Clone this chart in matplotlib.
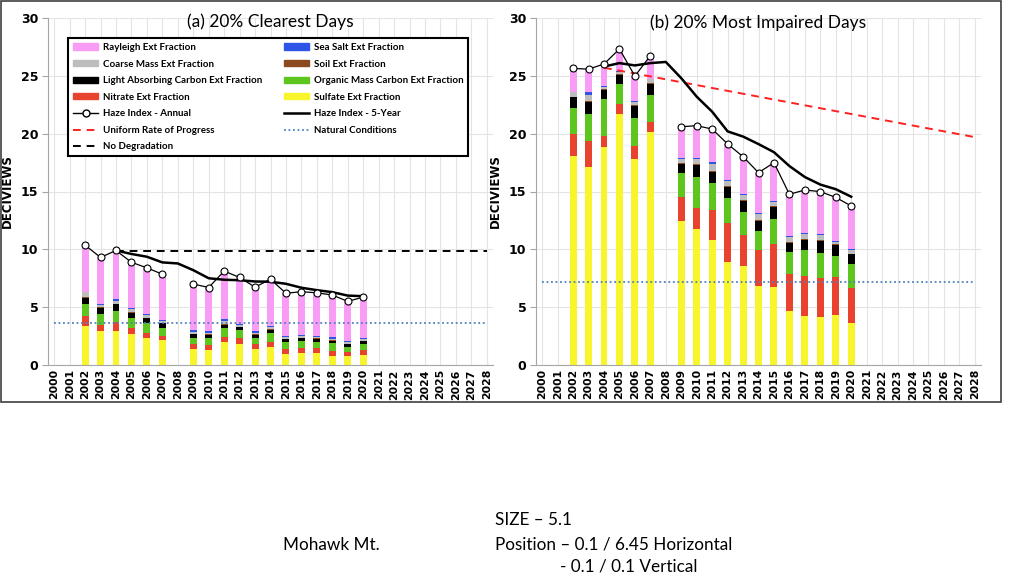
import numpy as np
import matplotlib.pyplot as plt
from matplotlib.patches import Patch, Rectangle
from matplotlib.lines import Line2D

plt.rcParams['font.family'] = ['Lato', 'DejaVu Sans']

# years
bar_years = [2002, 2003, 2004, 2005, 2006, 2007, 2009, 2010, 2011, 2012,
             2013, 2014, 2015, 2016, 2017, 2018, 2019, 2020]
annual_years = list(range(2002, 2021))
five_years = list(range(2004, 2021))
axis_years = list(range(2000, 2029))

# (a) 20% clearest days - deciview contribution of each species
clear_sulfate = [3.40, 2.95, 2.97, 2.65, 2.30, 2.16, 1.38, 1.30, 1.96, 1.78, 1.38, 1.58, 0.95, 1.00, 1.00, 0.80, 0.80, 0.86]
clear_nitrate = [0.82, 0.50, 0.73, 0.52, 0.46, 0.34, 0.40, 0.43, 0.49, 0.52, 0.40, 0.44, 0.40, 0.44, 0.44, 0.41, 0.35, 0.44]
clear_omc = [1.03, 0.98, 1.00, 0.86, 0.84, 0.67, 0.52, 0.57, 0.72, 0.72, 0.58, 0.71, 0.66, 0.63, 0.56, 0.66, 0.43, 0.51]
clear_lac = [0.56, 0.51, 0.55, 0.49, 0.43, 0.43, 0.35, 0.29, 0.29, 0.24, 0.23, 0.29, 0.21, 0.23, 0.25, 0.23, 0.23, 0.26]
clear_soil = [0.05, 0.05, 0.05, 0.05, 0.05, 0.05, 0.05, 0.05, 0.05, 0.05, 0.05, 0.05, 0.04, 0.05, 0.05, 0.04, 0.04, 0.04]
clear_coarse = [0.44, 0.21, 0.20, 0.23, 0.23, 0.15, 0.18, 0.15, 0.29, 0.15, 0.15, 0.19, 0.13, 0.15, 0.15, 0.13, 0.11, 0.11]
clear_seasalt = [0.03, 0.08, 0.22, 0.10, 0.12, 0.12, 0.15, 0.12, 0.20, 0.12, 0.12, 0.15, 0.10, 0.12, 0.08, 0.12, 0.08, 0.10]
clear_rayleigh = [4.03, 4.02, 4.18, 3.98, 3.97, 3.93, 3.97, 3.79, 4.12, 3.99, 3.82, 4.01, 3.71, 3.72, 3.71, 3.66, 3.46, 3.55]
clear_annual = [10.36, 9.30, 9.90, 8.88, 8.40, 7.85, np.nan, 7.00, 6.70, 8.12, 7.57, 6.73, 7.42, 6.20, 6.34, 6.24, 6.05, 5.50, 5.87]
clear_5yr = [9.90, 9.60, 9.36, 8.87, 8.78, 8.20, 7.50, 7.37, 7.33, 7.22, 7.20, 7.02, 6.68, 6.47, 6.30, 6.00, 5.95]
clear_natural = 3.63
clear_nodeg = 9.87

# (b) 20% most impaired days
imp_sulfate = [18.07, 17.09, 18.87, 21.70, 17.81, 20.17, 12.45, 11.76, 10.81, 8.93, 8.56, 6.83, 6.77, 4.70, 4.24, 4.18, 4.29, 3.60]
imp_nitrate = [1.87, 2.28, 0.96, 0.84, 1.15, 0.87, 2.04, 1.84, 2.59, 3.32, 2.65, 3.11, 3.69, 3.19, 3.45, 3.37, 3.29, 3.08]
imp_omc = [2.25, 2.33, 3.17, 1.73, 2.36, 2.30, 2.08, 2.62, 2.30, 2.16, 2.02, 1.64, 2.16, 1.88, 2.25, 2.16, 1.87, 2.05]
imp_lac = [0.96, 1.07, 0.77, 0.83, 1.10, 0.95, 0.81, 1.07, 1.01, 1.01, 0.95, 0.87, 1.07, 0.80, 0.87, 1.04, 0.92, 0.84]
imp_soil = [0.05, 0.05, 0.05, 0.05, 0.05, 0.05, 0.05, 0.05, 0.05, 0.05, 0.05, 0.05, 0.05, 0.05, 0.05, 0.05, 0.05, 0.05]
imp_coarse = [0.38, 0.50, 0.18, 0.20, 0.28, 0.39, 0.38, 0.49, 0.66, 0.42, 0.43, 0.57, 0.34, 0.46, 0.48, 0.43, 0.20, 0.28]
imp_seasalt = [0.05, 0.30, 0.12, 0.05, 0.10, 0.03, 0.08, 0.10, 0.10, 0.10, 0.10, 0.10, 0.10, 0.10, 0.10, 0.10, 0.10, 0.10]
imp_rayleigh = [2.01, 1.96, 1.90, 1.92, 2.13, 1.98, 2.71, 2.76, 2.88, 3.12, 3.25, 3.46, 3.31, 3.58, 3.69, 3.66, 3.77, 3.75]
imp_annual = [25.64, 25.58, 26.02, 27.32, 24.98, 26.74, np.nan, 20.60, 20.69, 20.40, 19.11, 18.01, 16.63, 17.49, 14.76, 15.13, 14.99, 14.49, 13.75]
imp_5yr = [25.80, 26.10, 25.90, 26.10, 26.20, 24.80, 23.20, 21.90, 20.20, 19.75, 19.10, 18.40, 17.20, 16.25, 15.60, 15.20, 14.55]
imp_natural = 7.20
urp_years = [2004, 2028]
urp_values = [25.70, 19.70]

species_names = ["Sulfate Ext Fraction", "Nitrate Ext Fraction", "Organic Mass Carbon Ext Fraction",
                 "Light Absorbing Carbon Ext Fraction", "Soil Ext Fraction", "Coarse Mass Ext Fraction",
                 "Sea Salt Ext Fraction", "Rayleigh Ext Fraction"]
species_colors = ["#F9F52C", "#E8432E", "#5CC51E", "#000000", "#8B4A1F", "#BDBDBD", "#2F55E6", "#F99CF6"]

clear_species = [clear_sulfate, clear_nitrate, clear_omc, clear_lac, clear_soil, clear_coarse, clear_seasalt, clear_rayleigh]
imp_species = [imp_sulfate, imp_nitrate, imp_omc, imp_lac, imp_soil, imp_coarse, imp_seasalt, imp_rayleigh]

fig = plt.figure(figsize=(10.24, 5.76), dpi=100)
ax1 = fig.add_axes([48/1024, 1-365/576, 445/1024, 347/576])
ax2 = fig.add_axes([536/1024, 1-365/576, 445/1024, 347/576])


def draw_panel(ax, species, annual, five, natural, title, ty):
    bottom = np.zeros(len(bar_years))
    for vals, c in zip(species, species_colors):
        ax.bar(bar_years, vals, bottom=bottom, width=0.45, color=c, linewidth=0, zorder=2)
        bottom += np.array(vals)
    ax.plot(axis_years, [natural]*len(axis_years), color="#4F81BD", ls=(0, (1, 1.5)), lw=1.3, zorder=3)
    ax.plot(five_years, five, color="black", lw=1.8, zorder=4)
    ax.plot(annual_years, annual, color="black", lw=0.9, marker="o", ms=5,
            mfc="white", mec="black", mew=0.8, zorder=5)
    ax.set_xlim(1999.6, 2028.4)
    ax.set_ylim(0, 30)
    ax.set_yticks([0, 5, 10, 15, 20, 25, 30])
    ax.set_xticks(axis_years)
    ax.set_xticklabels([str(y) for y in axis_years], rotation=90, fontsize=7.8,
                       fontweight="bold", family="DejaVu Sans")
    for lab in ax.get_yticklabels():
        lab.set_fontweight("bold")
        lab.set_fontsize(9)
        lab.set_family("DejaVu Sans")
    ax.grid(True, color="#E4E4E4", lw=0.8, zorder=0)
    ax.set_axisbelow(True)
    for s in ["top", "right"]:
        ax.spines[s].set_visible(False)
    for s in ["left", "bottom"]:
        ax.spines[s].set_color("#A6A6A6")
    ax.tick_params(axis="x", length=0, pad=3)
    ax.tick_params(axis="y", length=4, color="#A6A6A6", pad=3)
    ax.set_ylabel("DECIVIEWS", fontsize=8.5, fontweight="bold", family="DejaVu Sans", labelpad=5)
    ax.text(0.5, ty, title, transform=ax.transAxes, ha="center", va="center", fontsize=12.5)


draw_panel(ax1, clear_species, clear_annual, clear_5yr, clear_natural, "(a) 20% Clearest Days", 0.99)
ax1.plot([2004, 2028], [clear_nodeg, clear_nodeg], color="black", ls=(0, (4, 3)), lw=1.4, zorder=3)

draw_panel(ax2, imp_species, imp_annual, imp_5yr, imp_natural, "(b) 20% Most Impaired Days", 0.985)
ax2.plot(urp_years, urp_values, color="#FF2020", ls=(0, (4, 3)), lw=1.4, zorder=3)

# legend
sp = dict(zip(species_names, species_colors))
handles = [
    Patch(color=sp["Rayleigh Ext Fraction"], label="Rayleigh Ext Fraction"),
    Patch(color=sp["Coarse Mass Ext Fraction"], label="Coarse Mass Ext Fraction"),
    Patch(color=sp["Light Absorbing Carbon Ext Fraction"], label="Light Absorbing Carbon Ext Fraction"),
    Patch(color=sp["Nitrate Ext Fraction"], label="Nitrate Ext Fraction"),
    Line2D([], [], color="black", lw=1, marker="o", ms=5, mfc="white", mec="black", label="Haze Index - Annual"),
    Line2D([], [], color="#FF2020", ls=(0, (4, 3)), lw=1.4, label="Uniform Rate of Progress"),
    Line2D([], [], color="black", ls=(0, (4, 3)), lw=1.4, label="No Degradation"),
    Patch(color=sp["Sea Salt Ext Fraction"], label="Sea Salt Ext Fraction"),
    Patch(color=sp["Soil Ext Fraction"], label="Soil Ext Fraction"),
    Patch(color=sp["Organic Mass Carbon Ext Fraction"], label="Organic Mass Carbon Ext Fraction"),
    Patch(color=sp["Sulfate Ext Fraction"], label="Sulfate Ext Fraction"),
    Line2D([], [], color="black", lw=1.8, label="Haze Index - 5-Year"),
    Line2D([], [], color="#4F81BD", ls=(0, (1, 1.5)), lw=1.3, label="Natural Conditions"),
]
leg = ax1.legend(handles=handles, ncol=2, loc="upper left", bbox_to_anchor=(0.045, 0.942),
                 borderaxespad=0, fancybox=False, edgecolor="black", framealpha=1,
                 prop={"size": 7.0, "weight": "bold"}, handlelength=2.6, handleheight=0.6,
                 labelspacing=0.78, handletextpad=0.45, columnspacing=2.3, borderpad=0.5)
leg.get_frame().set_linewidth(1.5)
leg.set_zorder(10)

# outer frame
fig.add_artist(Rectangle((0.001, 1-402/576), 1000/1024, 402/576-0.002, transform=fig.transFigure,
                         fill=False, ec="#404040", lw=1.2))

fig.text(495/1024, 1-520/576, "SIZE \u2013 5.1", fontsize=12.3, va="center")
fig.text(283/1024, 1-545/576, "Mohawk Mt.", fontsize=12.3, va="center")
fig.text(495/1024, 1-545/576, "Position \u2013 0.1 / 6.45 Horizontal", fontsize=12.3, va="center")
fig.text(560/1024, 1-567/576, "- 0.1 / 0.1 Vertical", fontsize=12.3, va="center")

fig.savefig("out.png", dpi=100)
